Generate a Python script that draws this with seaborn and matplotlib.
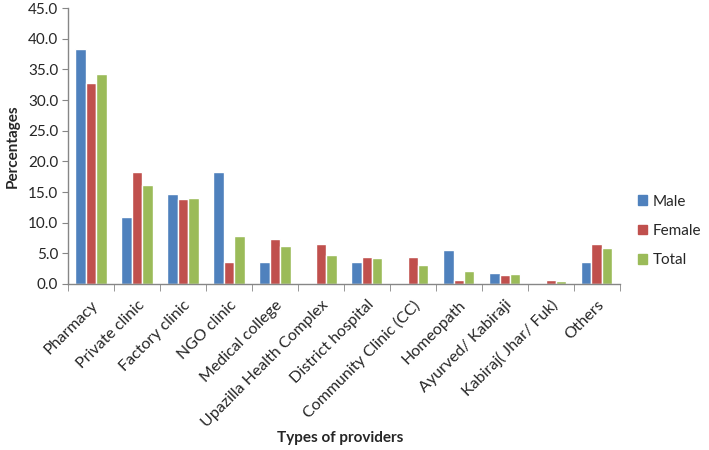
import pandas as pd
import matplotlib.pyplot as plt
import seaborn as sns

# Provider types and percentages
providers = ["Pharmacy", "Private clinic", "Factory clinic", "NGO clinic",
             "Medical college", "Upazilla Health Complex", "District hospital",
             "Community Clinic (CC)", "Homeopath", "Ayurved/ Kabiraji",
             "Kabiraj( Jhar/ Fuk)", "Others"]
male = [38.3, 11.0, 14.6, 18.2, 3.6, 0.0, 3.6, 0.0, 5.5, 1.8, 0.0, 3.6]
female = [32.7, 18.2, 13.8, 3.6, 7.3, 6.5, 4.4, 4.4, 0.7, 1.5, 0.7, 6.5]
total = [34.3, 16.1, 14.0, 7.8, 6.2, 4.7, 4.2, 3.1, 2.1, 1.6, 0.5, 5.8]

df = pd.DataFrame({"provider": providers, "Male": male, "Female": female, "Total": total})
df = df.melt(id_vars="provider", var_name="group", value_name="pct")

sns.set_style("white")
plt.rcParams['font.family'] = ['Lato', 'DejaVu Sans']

palette = {"Male": "#4F81BD", "Female": "#C0504D", "Total": "#9BBB59"}

fig = plt.figure(figsize=(7.09, 4.5), dpi=100)
ax = fig.add_axes([0.096, 0.369, 0.778, 0.613])
sns.barplot(data=df, x="provider", y="pct", hue="group", palette=palette,
            order=providers, hue_order=["Male", "Female", "Total"],
            width=0.68, saturation=1, ax=ax, legend=False)

ax.set_ylim(0, 45)
ax.set_xlim(-0.5, len(providers) - 0.5)
ax.set_yticks(range(0, 46, 5))
ax.set_yticklabels([f"{v:.1f}" for v in range(0, 46, 5)], fontsize=11)
ax.tick_params(axis="y", direction="out", length=4, color="#868686", left=True, pad=3)

# category labels at centers, tick marks between categories
ax.set_xticks(range(len(providers)))
ax.set_xticklabels(providers, rotation=45, ha="right", rotation_mode="anchor", fontsize=11.5)
ax.tick_params(axis="x", which="major", length=0, pad=10)
ax.set_xticks([i - 0.5 for i in range(len(providers) + 1)], minor=True)
ax.tick_params(axis="x", which="minor", direction="out", length=5, color="#868686", bottom=True)

for s in ["top", "right"]:
    ax.spines[s].set_visible(False)
for s in ["left", "bottom"]:
    ax.spines[s].set_color("#868686")
    ax.spines[s].set_linewidth(1)

ax.set_ylabel("Percentages", fontsize=11, fontweight="bold", labelpad=6)
ax.set_xlabel("")
fig.text(0.48, 0.018, "Types of providers", fontsize=11, fontweight="bold", ha="center")

handles = [plt.Rectangle((0, 0), 1, 1, color=palette[k]) for k in ["Male", "Female", "Total"]]
fig.legend(handles, ["Male", "Female", "Total"], loc="center left",
           bbox_to_anchor=(0.895, 0.487), frameon=False, fontsize=11,
           borderaxespad=0, borderpad=0.2,
           handlelength=0.6, handleheight=0.6, handletextpad=0.4, labelspacing=1.0)

fig.savefig("out.png", dpi=100)
